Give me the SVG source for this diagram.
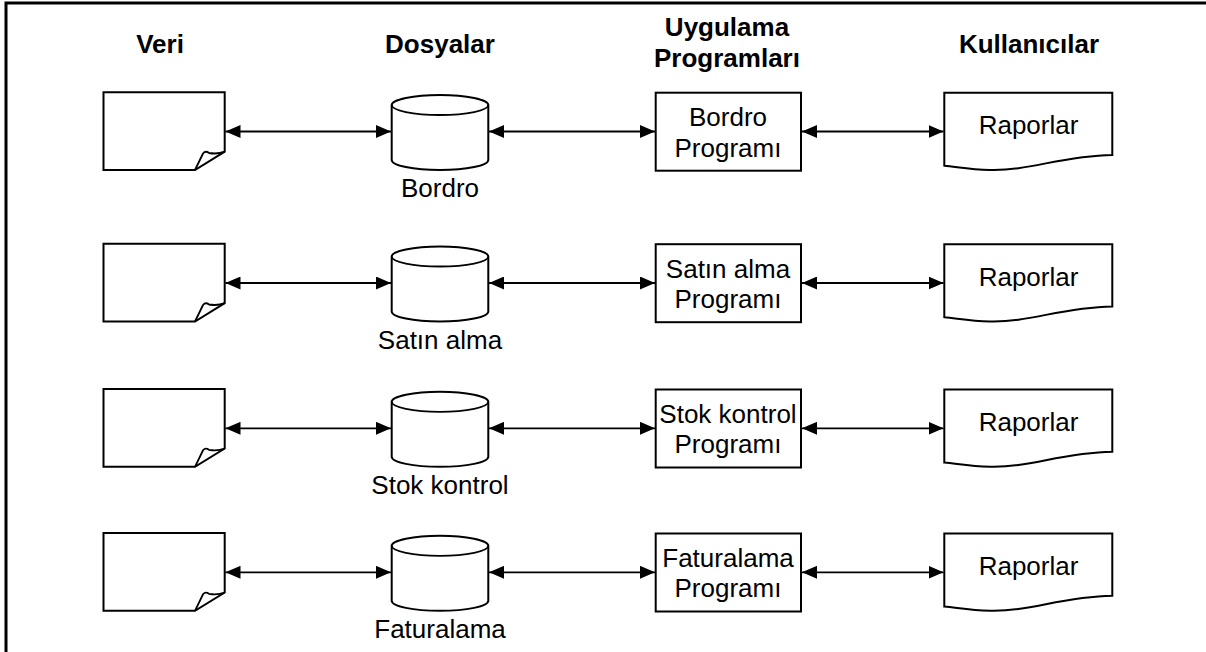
<svg xmlns="http://www.w3.org/2000/svg" width="1206" height="652" viewBox="0 0 1206 652">
<style>
.sh{fill:#fff;stroke:#000;stroke-width:2}
.ln{fill:none;stroke:#000;stroke-width:1.8}
.cn{stroke:#000;stroke-width:1.8;marker-start:url(#arr);marker-end:url(#arr)}
.t{font-family:"Liberation Sans",Arial,sans-serif;font-size:26px;fill:#000;text-anchor:middle}
.h{font-family:"Liberation Sans",Arial,sans-serif;font-size:26px;font-weight:bold;fill:#000;text-anchor:middle}
</style>
<defs>
<marker id="arr" viewBox="0 0 15 13" refX="15" refY="6.5" markerWidth="15" markerHeight="13" markerUnits="userSpaceOnUse" orient="auto-start-reverse"><path d="M0,0 L15,6.5 L0,13 Z" fill="#000"/></marker>
<g id="docShape">
<path class="sh" d="M103.5,92.3 H224.7 V151.7 L195,170 H103.5 Z"/>
<path class="ln" d="M195,170 L203,153.5 C205,151 207,151.5 209,153 C215,154 220,153.5 224.7,151.7"/>
</g>
<g id="cylShape">
<path class="sh" d="M391.7,105 V160 A48.3,10 0 0 0 488.3,160 V105 A48.3,10 0 0 0 391.7,105 Z"/>
<path class="ln" d="M391.7,105 A48.3,10 0 0 0 488.3,105"/>
</g>
<g id="repShape">
<path class="sh" d="M944.3,92.7 H1112.3 V155 C1060,156 1030,171 990,170 C970,169.5 958,167 944.3,165.7 Z"/>
</g>
</defs>
<g id="frame"><path d="M6,652 V3 H1206" fill="none" stroke="#000" stroke-width="3"/></g>
<g id="headers">
<text class="h" x="160" y="53">Veri</text>
<text class="h" x="440" y="53">Dosyalar</text>
<text class="h" x="727" y="36">Uygulama</text>
<text class="h" x="727" y="67">Programları</text>
<text class="h" x="1029" y="53">Kullanıcılar</text>
</g>
<g id="connectors">
<line class="cn" x1="225.5" y1="131.5" x2="391" y2="131.5"/>
<line class="cn" x1="489" y1="131.5" x2="655" y2="131.5"/>
<line class="cn" x1="802" y1="131.5" x2="943.5" y2="131.5"/>
<line class="cn" x1="225.5" y1="283" x2="391" y2="283"/>
<line class="cn" x1="489" y1="283" x2="655" y2="283"/>
<line class="cn" x1="802" y1="283" x2="943.5" y2="283"/>
<line class="cn" x1="225.5" y1="428.3" x2="391" y2="428.3"/>
<line class="cn" x1="489" y1="428.3" x2="655" y2="428.3"/>
<line class="cn" x1="802" y1="428.3" x2="943.5" y2="428.3"/>
<line class="cn" x1="225.5" y1="572.3" x2="391" y2="572.3"/>
<line class="cn" x1="489" y1="572.3" x2="655" y2="572.3"/>
<line class="cn" x1="802" y1="572.3" x2="943.5" y2="572.3"/>
</g>
<g id="veri1"><use href="#docShape"/></g>
<g id="dosya1"><use href="#cylShape"/><text class="t" x="440" y="197">Bordro</text></g>
<g id="prog1"><rect class="sh" x="655.7" y="92.7" width="145.3" height="78"/><text class="t" x="728" y="126">Bordro</text><text class="t" x="728" y="156.5">Programı</text></g>
<g id="rapor1"><use href="#repShape"/><text class="t" x="1028.5" y="134">Raporlar</text></g>

<g id="veri2" transform="translate(0,151.5)"><use href="#docShape"/></g>
<g id="dosya2" transform="translate(0,151.5)"><use href="#cylShape"/><text class="t" x="440" y="197">Satın alma</text></g>
<g id="prog2" transform="translate(0,151.5)"><rect class="sh" x="655.7" y="92.7" width="145.3" height="78"/><text class="t" x="728" y="126">Satın alma</text><text class="t" x="728" y="156.5">Programı</text></g>
<g id="rapor2" transform="translate(0,151.5)"><use href="#repShape"/><text class="t" x="1028.5" y="134">Raporlar</text></g>

<g id="veri3" transform="translate(0,296.8)"><use href="#docShape"/></g>
<g id="dosya3" transform="translate(0,296.8)"><use href="#cylShape"/><text class="t" x="440" y="197">Stok kontrol</text></g>
<g id="prog3" transform="translate(0,296.8)"><rect class="sh" x="655.7" y="92.7" width="145.3" height="78"/><text class="t" x="728" y="126">Stok kontrol</text><text class="t" x="728" y="156.5">Programı</text></g>
<g id="rapor3" transform="translate(0,296.8)"><use href="#repShape"/><text class="t" x="1028.5" y="134">Raporlar</text></g>

<g id="veri4" transform="translate(0,440.8)"><use href="#docShape"/></g>
<g id="dosya4" transform="translate(0,440.8)"><use href="#cylShape"/><text class="t" x="440" y="197">Faturalama</text></g>
<g id="prog4" transform="translate(0,440.8)"><rect class="sh" x="655.7" y="92.7" width="145.3" height="78"/><text class="t" x="728" y="126">Faturalama</text><text class="t" x="728" y="156.5">Programı</text></g>
<g id="rapor4" transform="translate(0,440.8)"><use href="#repShape"/><text class="t" x="1028.5" y="134">Raporlar</text></g>
</svg>
